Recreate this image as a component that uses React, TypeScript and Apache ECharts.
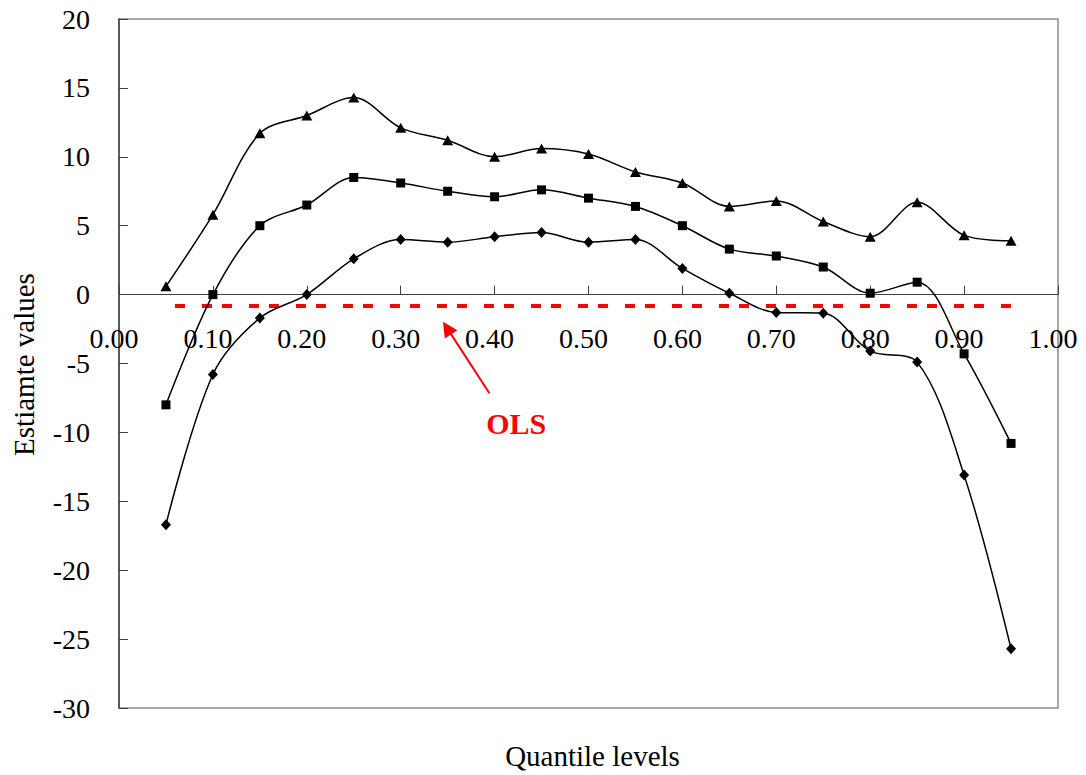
import React, { useEffect, useRef } from "react";
import * as echarts from "echarts";

const quantiles = [0.05, 0.1, 0.15, 0.2, 0.25, 0.3, 0.35, 0.4, 0.45, 0.5, 0.55, 0.6, 0.65, 0.7, 0.75, 0.8, 0.85, 0.9, 0.95];
const upperBound = [0.6, 5.8, 11.7, 13.0, 14.3, 12.1, 11.2, 10.0, 10.6, 10.2, 8.9, 8.1, 6.4, 6.8, 5.3, 4.2, 6.7, 4.3, 3.9];
const estimate = [-8.0, 0.0, 5.0, 6.5, 8.5, 8.1, 7.5, 7.1, 7.6, 7.0, 6.4, 5.0, 3.3, 2.8, 2.0, 0.1, 0.9, -4.3, -10.8];
const lowerBound = [-16.7, -5.8, -1.7, 0.0, 2.6, 4.0, 3.8, 4.2, 4.5, 3.8, 4.0, 1.9, 0.1, -1.3, -1.35, -4.1, -4.9, -13.1, -25.7];
const olsValue = -0.83;
const olsRange = [0.05, 0.95];

const yMin = -30;
const yMax = 20;

const xTitle = "Quantile levels";
const yTitle = "Estiamte values";
const olsLabel = "OLS";
// annotation anchors in data coordinates
const arrowTip = [0.345, -1.97];
const arrowTail = [0.3945, -7.16];
const olsLabelPos = [0.423, -9.34];

const FONT = "'Liberation Serif', 'Times New Roman', Times, serif";

const GRID = { left: 119, right: 28, top: 19, bottom: 67 };
const W = 1086;
const H = 775;

export default function App() {
  const ref = useRef<HTMLDivElement>(null);

  useEffect(() => {
    document.body.style.margin = "0";
    const chart = echarts.init(ref.current!, null, { renderer: "svg" });

    const mk = (vals: number[]) => quantiles.map((q, i) => [q, vals[i]]);
    const lineStyle = { color: "#000", width: 1.5 };
    const plotH = H - GRID.top - GRID.bottom;
    const zeroOffset = -((0 - yMin) / (yMax - yMin)) * plotH;

    chart.setOption({
      animation: false,
      backgroundColor: "#fff",
      grid: {
        ...GRID,
        show: true,
        borderColor: "#8c8c8c",
        borderWidth: 1.5,
        backgroundColor: "transparent",
      },
      xAxis: {
        type: "value",
        min: 0,
        max: 1,
        interval: 0.1,
        position: "bottom",
        offset: zeroOffset,
        axisLine: { show: true, onZero: false, lineStyle: { color: "#404040", width: 1 } },
        axisTick: { show: true, inside: true, length: 9, lineStyle: { color: "#404040", width: 1 } },
        splitLine: { show: false },
        axisLabel: {
          show: true,
          margin: 30,
          fontFamily: FONT,
          fontSize: 28,
          color: "#000",
          showMinLabel: true,
          showMaxLabel: true,
          padding: [0, 10, 0, 0],
          formatter: (v: number) => v.toFixed(2),
        },
      },
      yAxis: {
        type: "value",
        min: yMin,
        max: yMax,
        interval: 5,
        axisLine: { show: true, onZero: false, lineStyle: { color: "#404040", width: 1.5 } },
        axisTick: { show: true, inside: true, length: 9, lineStyle: { color: "#404040", width: 1 } },
        splitLine: { show: false },
        axisLabel: {
          margin: 29,
          fontFamily: FONT,
          fontSize: 28,
          color: "#000",
          showMinLabel: true,
          showMaxLabel: true,
        },
      },
      series: [
        {
          name: "OLS",
          type: "line",
          data: olsRange.map((q) => [q, olsValue]),
          symbol: "none",
          lineStyle: { color: "#ff0000", width: 4, type: [10, 10, 10, 17], dashOffset: 11 },
          z: 1,
        },
        {
          name: "Upper",
          type: "line",
          data: mk(upperBound),
          smooth: 0.33,
          symbol: "triangle",
          symbolSize: [11, 10],
          itemStyle: { color: "#000" },
          lineStyle,
          z: 3,
        },
        {
          name: "Estimate",
          type: "line",
          data: mk(estimate),
          smooth: 0.33,
          symbol: "rect",
          symbolSize: 9,
          itemStyle: { color: "#000" },
          lineStyle,
          z: 3,
        },
        {
          name: "Lower",
          type: "line",
          data: mk(lowerBound),
          smooth: 0.33,
          symbol: "diamond",
          symbolSize: [10, 11],
          itemStyle: { color: "#000" },
          lineStyle,
          z: 3,
        },
      ],
    });

    const tip = chart.convertToPixel({ gridIndex: 0 }, arrowTip) as number[];
    const tail = chart.convertToPixel({ gridIndex: 0 }, arrowTail) as number[];
    const lab = chart.convertToPixel({ gridIndex: 0 }, olsLabelPos) as number[];
    const dx = tip[0] - tail[0];
    const dy = tip[1] - tail[1];
    const len = Math.sqrt(dx * dx + dy * dy);
    const ux = dx / len;
    const uy = dy / len;
    const headLen = 15;
    const headHalf = 7.5;
    const bx = tip[0] - ux * headLen;
    const by = tip[1] - uy * headLen;
    const px = -uy;
    const py = ux;

    const gl = GRID.left;
    const gr = W - GRID.right;
    const gt = GRID.top;
    const gb = H - GRID.bottom;

    chart.setOption({
      graphic: [
        {
          type: "line",
          shape: { x1: tail[0], y1: tail[1], x2: bx + ux * 2, y2: by + uy * 2 },
          style: { stroke: "#ff0000", lineWidth: 2 },
          z: 10,
        },
        {
          type: "polygon",
          shape: {
            points: [
              [tip[0], tip[1]],
              [bx + px * headHalf, by + py * headHalf],
              [bx - px * headHalf, by - py * headHalf],
            ],
          },
          style: { fill: "#ff0000" },
          z: 10,
        },
        {
          type: "text",
          x: lab[0],
          y: lab[1],
          style: {
            text: olsLabel,
            fill: "#ff0000",
            font: `bold 30px ${FONT}`,
            textAlign: "center",
            textVerticalAlign: "middle",
          },
          z: 10,
        },
        {
          type: "text",
          x: (gl + gr) / 2 + 4,
          y: 756,
          style: {
            text: xTitle,
            fill: "#000",
            font: `29px ${FONT}`,
            textAlign: "center",
            textVerticalAlign: "middle",
          },
        },
        {
          type: "text",
          x: 24,
          y: (gt + gb) / 2 + 1,
          rotation: Math.PI / 2,
          style: {
            text: yTitle,
            fill: "#000",
            font: `29px ${FONT}`,
            textAlign: "center",
            textVerticalAlign: "middle",
          },
        },
      ],
    });

    return () => chart.dispose();
  }, []);

  return <div ref={ref} style={{ width: W, height: H }} />;
}
